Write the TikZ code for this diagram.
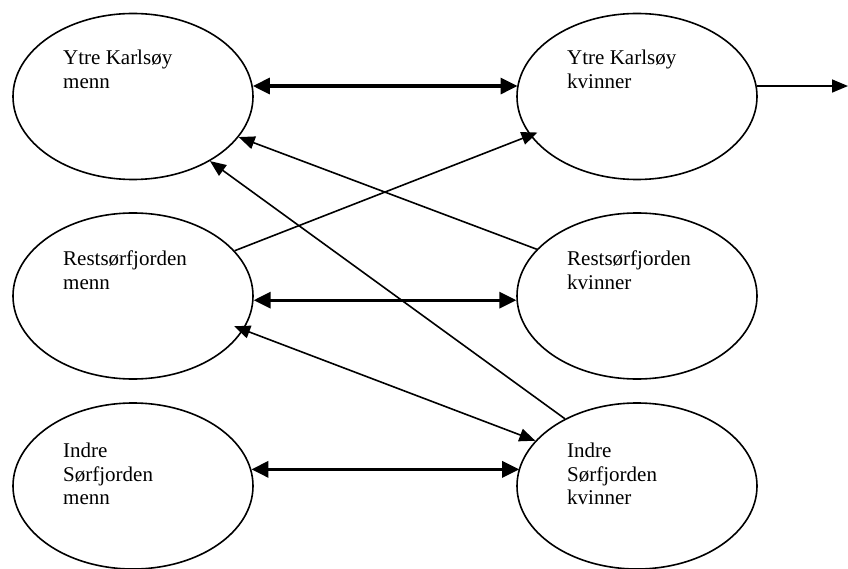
\documentclass[tikz,border=0pt]{standalone}
\usepackage{fontspec}
\setmainfont{Liberation Serif}
\usetikzlibrary{shapes.geometric,arrows.meta}

\tikzset{
  region/.style={ellipse, draw, line width=1.6pt, minimum width=240pt,
    minimum height=166pt, inner sep=0pt},
  txt/.style={anchor=north west, inner sep=0pt, align=left,
    font=\fontsize{21}{23.5}\selectfont},
  dbl/.style={{Triangle[length=17pt 0,width=16pt 0]}-{Triangle[length=17pt 0,width=16pt 0]},
    line width=3.2pt},
  one/.style={-{Triangle[length=16pt 0,width=13pt 0]}, line width=1.6pt},
  both/.style={{Triangle[length=16pt 0,width=13pt 0]}-{Triangle[length=16pt 0,width=13pt 0]},
    line width=1.6pt}
}

\begin{document}
\begin{tikzpicture}[x=1pt,y=-1pt]
\useasboundingbox (0,0) rectangle (848,569);

%==================== grupper ====================
\foreach \nm/\x/\y in {ykm/133/96.5, ykk/637/96.5, rm/133/296,
  rk/637/296, im/133/486, ik/637/486}
{
    \node[region] (\nm) at (\x,\y) {};
}

% tekst i ellipsene
\node[txt] (ykm-t) at (63,50) {Ytre Karlsøy\\menn};
\node[txt] (ykk-t) at (567,50) {Ytre Karlsøy\\kvinner};
\node[txt] (rm-t) at (63,251) {Restsørfjorden\\menn};
\node[txt] (rk-t) at (567,251) {Restsørfjorden\\kvinner};
\node[txt] (im-t) at (63,443) {Indre\\Sørfjorden\\menn};
\node[txt] (ik-t) at (567,443) {Indre\\Sørfjorden\\kvinner};

\coordinate (ut) at (848,85);

%==================== tykke piler ====================
\draw[dbl] (ykm.5.5) -- (ykk.174.5 |- ykm.5.5);
\draw[dbl] (rm.358) -- (rk.182 |- rm.358);
\draw[dbl] (im.8.7) -- (ik.171.3 |- im.8.7);

%==================== tynne piler ====================
\draw[one] (ykk.5.5) -- (ut |- ykk.5.5);
\draw[one, shorten >=-8pt] (rm.24.4) -- (ykk.200.2);
\draw[one] (rk.155.6) -- (ykm.339);
\draw[one] (ik.137.6) -- (ykm.320.6);
\draw[both, shorten <=-10pt] (rm.343.8) -- (ik.156.7);

\end{tikzpicture}
\end{document}
